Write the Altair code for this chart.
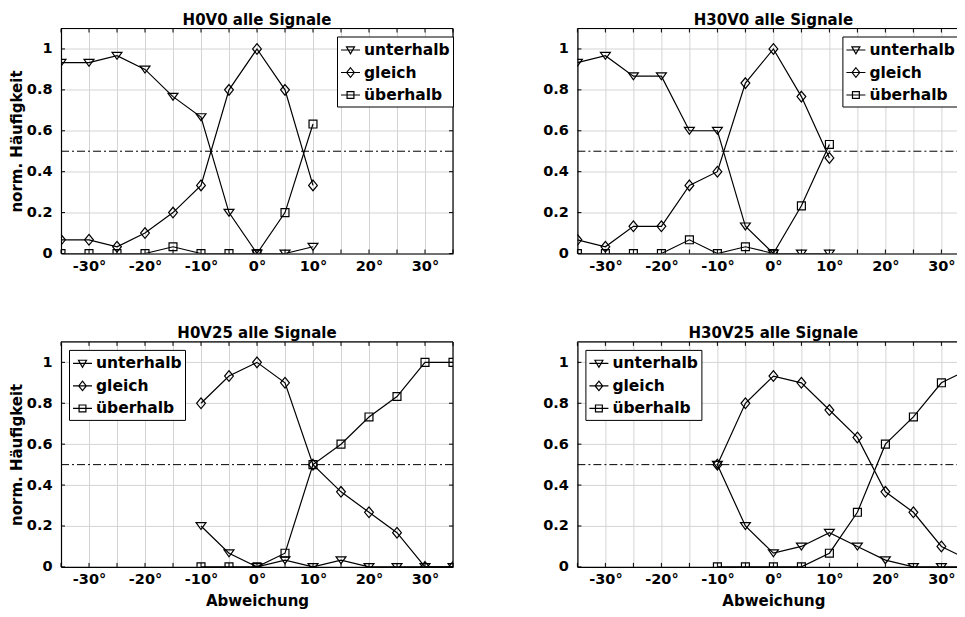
import altair as alt
import pandas as pd

FONT = "DejaVu Sans"
names = ["unterhalb", "gleich", "überhalb"]

x_left = [-35, -30, -25, -20, -15, -10, -5, 0, 5, 10]
x_right = [-10, -5, 0, 5, 10, 15, 20, 25, 30, 35]

h0v0_unterhalb = [0.933, 0.933, 0.967, 0.9, 0.767, 0.667, 0.2, 0.0, 0.0, 0.033]
h0v0_gleich = [0.067, 0.067, 0.033, 0.1, 0.2, 0.333, 0.8, 1.0, 0.8, 0.333]
h0v0_ueberhalb = [0.0, 0.0, 0.0, 0.0, 0.033, 0.0, 0.0, 0.0, 0.2, 0.633]

h30v0_unterhalb = [0.933, 0.967, 0.867, 0.867, 0.6, 0.6, 0.133, 0.0, 0.0, 0.0]
h30v0_gleich = [0.067, 0.033, 0.133, 0.133, 0.333, 0.4, 0.833, 1.0, 0.767, 0.467]
h30v0_ueberhalb = [0.0, 0.0, 0.0, 0.0, 0.067, 0.0, 0.033, 0.0, 0.233, 0.533]

h0v25_unterhalb = [0.2, 0.067, 0.0, 0.033, 0.0, 0.033, 0.0, 0.0, 0.0, 0.0]
h0v25_gleich = [0.8, 0.933, 1.0, 0.9, 0.5, 0.367, 0.267, 0.167, 0.0, 0.0]
h0v25_ueberhalb = [0.0, 0.0, 0.0, 0.067, 0.5, 0.6, 0.733, 0.833, 1.0, 1.0]

h30v25_unterhalb = [0.5, 0.2, 0.067, 0.1, 0.167, 0.1, 0.033, 0.0, 0.0, 0.0]
h30v25_gleich = [0.5, 0.8, 0.933, 0.9, 0.767, 0.633, 0.367, 0.267, 0.1, 0.033]
h30v25_ueberhalb = [0.0, 0.0, 0.0, 0.0, 0.067, 0.267, 0.6, 0.733, 0.9, 0.967]

x_ticks = [-35, -30, -25, -20, -15, -10, -5, 0, 5, 10, 15, 20, 25, 30, 35]
y_ticks = [0, 0.2, 0.4, 0.6, 0.8, 1]

# marker shapes (unit box -1..1)
tri = "M-0.9,-0.6L0.9,-0.6L0,0.65Z"
dia = "M0,-0.97L0.8,0L0,0.97L-0.8,0Z"
sq = "M-0.72,-0.72L0.72,-0.72L0.72,0.72L-0.72,0.72Z"
leg_tri = "M-1,0L1,0M-0.42,-0.33L0.42,-0.33L0,0.4Z"
leg_dia = "M-1,0L1,0M0,-0.5L0.4,0L0,0.5L-0.4,0Z"
leg_sq = "M-1,0L1,0M-0.36,-0.36L0.36,-0.36L0.36,0.36L-0.36,0.36Z"

H = 225
W = 392
GRID = "#d4d4d4"
LW = 1.2


def panel(title, xs, series, left, bottom, legend_x):
    rows = []
    for name, vals in zip(names, series):
        for x, v in zip(xs, vals):
            rows.append({"x": x, "y": v, "serie": name})
    df = pd.DataFrame(rows)

    xscale = alt.Scale(domain=[-35, 35], nice=False, zero=False)
    yscale = alt.Scale(domain=[0, 1.1], nice=False, zero=False)
    xaxis = alt.Axis(
        values=x_ticks, labelExpr="datum.value % 10 == 0 ? datum.value + '°' : ''",
        grid=True, gridColor=GRID, gridWidth=1, ticks=False, domainColor="black",
        domainWidth=LW, labelFont=FONT, labelFontSize=14.5, labelFontWeight="bold",
        labelColor="black", labelPadding=6, labelOverlap=False, labelFlush=False,
        titleFont=FONT, titleFontSize=15, titleFontWeight="bold", titleColor="black",
        titlePadding=7,
    )
    yaxis = alt.Axis(
        values=y_ticks, format="~g", grid=True, gridColor=GRID, gridWidth=1,
        ticks=False, domainColor="black", domainWidth=LW, labelFont=FONT,
        labelFontSize=14.5, labelFontWeight="bold", labelColor="black",
        labelPadding=9, labelOverlap=False, titleFont=FONT, titleFontSize=15,
        titleFontWeight="bold", titleColor="black", titlePadding=6,
        minExtent=31, maxExtent=31,
    )
    X = alt.X("x:Q", scale=xscale, axis=xaxis, title="Abweichung" if bottom else None)
    Y = alt.Y("y:Q", scale=yscale, axis=yaxis, title="norm. Häufigkeit" if left else None)

    lines = alt.Chart(df).mark_line(color="black", strokeWidth=LW, clip=True).encode(
        x=X, y=Y, detail="serie:N", order="x:Q"
    )
    pts = alt.Chart(df).mark_point(
        filled=False, color="black", opacity=1, strokeWidth=LW, size=121, clip=True
    ).encode(
        x=X, y=Y,
        shape=alt.Shape("serie:N", scale=alt.Scale(domain=names, range=[tri, dia, sq]), legend=None),
    )
    leg = alt.Chart(df).transform_filter("false").mark_point(
        filled=False, color="black", opacity=1, strokeWidth=LW
    ).encode(
        x=X, y=Y,
        shape=alt.Shape(
            "serie:N",
            scale=alt.Scale(domain=names, range=[leg_tri, leg_dia, leg_sq]),
            legend=alt.Legend(
                title=None, orient="none", legendX=legend_x, legendY=8,
                fillColor="white", strokeColor="black", padding=3,
                symbolSize=361, symbolStrokeWidth=LW, symbolStrokeColor="black",
                symbolOpacity=1, labelFont=FONT, labelFontSize=15.5,
                labelFontWeight="bold", labelColor="black", labelOffset=3,
                rowPadding=3.5, symbolOffset=0,
            ),
        ),
    )
    half = alt.Chart(pd.DataFrame({"y": [0.5]})).mark_rule(
        color="black", strokeWidth=1, strokeDash=[8, 3, 2, 3]
    ).encode(y=Y)
    top = alt.Chart(pd.DataFrame({"y": [1.1]})).mark_rule(color="black", strokeWidth=LW).encode(y=Y)
    right = alt.Chart(pd.DataFrame({"x": [35]})).mark_rule(color="black", strokeWidth=LW).encode(x=X)

    xt = pd.DataFrame({"x": x_ticks})
    yt = pd.DataFrame({"y": y_ticks})
    t_top = alt.Chart(xt).mark_rule(color="black", strokeWidth=1).encode(
        x=X, y=alt.value(0), y2=alt.value(4)
    )
    t_bot = alt.Chart(xt).mark_rule(color="black", strokeWidth=1).encode(
        x=X, y=alt.value(H - 4), y2=alt.value(H)
    )
    t_left = alt.Chart(yt).mark_rule(color="black", strokeWidth=1).encode(
        y=Y, x=alt.value(0), x2=alt.value(4)
    )
    t_right = alt.Chart(yt).mark_rule(color="black", strokeWidth=1).encode(
        y=Y, x=alt.value(W - 4), x2=alt.value(W)
    )
    layers = [half, lines, pts, leg, top, right, t_top, t_bot, t_left, t_right]
    return alt.layer(*layers).resolve_scale(shape="independent").properties(
        width=W, height=H,
        title=alt.Title(title, font=FONT, fontSize=15, fontWeight="bold", color="black", offset=0),
    )


p1 = panel("H0V0 alle Signale", x_left, [h0v0_unterhalb, h0v0_gleich, h0v0_ueberhalb],
           True, False, 276)
p2 = panel("H30V0 alle Signale", x_left, [h30v0_unterhalb, h30v0_gleich, h30v0_ueberhalb],
           False, False, 265)
p3 = panel("H0V25 alle Signale", x_right, [h0v25_unterhalb, h0v25_gleich, h0v25_ueberhalb],
           True, True, 8)
p4 = panel("H30V25 alle Signale", x_right, [h30v25_unterhalb, h30v25_gleich, h30v25_ueberhalb],
           False, True, 8)

chart = alt.concat(
    p1, p2, p3, p4, columns=2, spacing={"row": 88.4, "column": 124.4}, bounds="flush"
).properties(
    padding={"left": 0, "top": 3.5, "right": -14, "bottom": 0}
).configure_view(strokeWidth=0).configure(background="white")

chart.save("out.html", embed_options={"renderer": "svg", "actions": False})
